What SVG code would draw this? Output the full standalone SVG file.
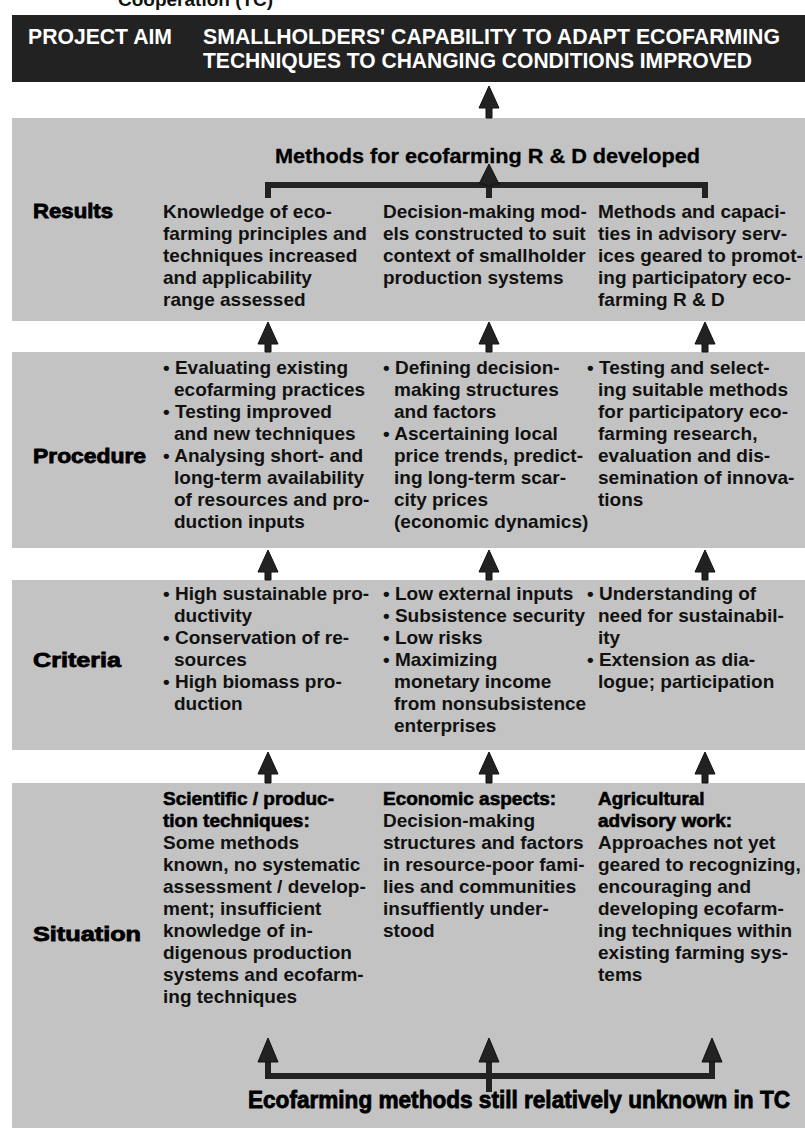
<svg xmlns="http://www.w3.org/2000/svg" width="805" height="1131" viewBox="0 0 805 1131">
<style>
.bg{fill:#c3c3c3}
.hdr{fill:#222}
.ht{font-family:"Liberation Sans",Arial,sans-serif;font-size:22px;font-weight:bold;fill:#fff}
.t{font-family:"Liberation Sans",Arial,sans-serif;font-size:19px;font-weight:bold;fill:#111}
.h{font-family:"Liberation Sans",Arial,sans-serif;font-size:19px;font-weight:bold;fill:#000;stroke:#000;stroke-width:0.6}
.lab{font-family:"Liberation Sans",Arial,sans-serif;font-size:20px;font-weight:bold;fill:#000;stroke:#000;stroke-width:0.8}
.big{font-family:"Liberation Sans",Arial,sans-serif;font-size:21px;font-weight:bold;fill:#000;stroke:#000;stroke-width:0.3}
.bot{font-family:"Liberation Sans",Arial,sans-serif;font-size:23px;font-weight:bold;fill:#000;stroke:#000;stroke-width:0.8}
.arr{fill:#222;stroke:#111;stroke-width:1}
.br{fill:none;stroke:#222;stroke-width:6;stroke-linejoin:miter}
</style>
<rect width="805" height="1131" fill="#fff"/>
<text class="t" x="118" y="6">Cooperation (TC)</text>

<g id="aim">
<rect class="hdr" x="12" y="15" width="793" height="67"/>
<text class="ht" x="28" y="44" textLength="144" lengthAdjust="spacingAndGlyphs">PROJECT AIM</text>
<text class="ht" x="203" y="44" textLength="577" lengthAdjust="spacingAndGlyphs">SMALLHOLDERS' CAPABILITY TO ADAPT ECOFARMING</text>
<text class="ht" x="203" y="68" textLength="549" lengthAdjust="spacingAndGlyphs">TECHNIQUES TO CHANGING CONDITIONS IMPROVED</text>
</g>

<g id="results">
<rect class="bg" x="12" y="118" width="793" height="203"/>
<text class="big" x="275" y="163" textLength="425" lengthAdjust="spacingAndGlyphs">Methods for ecofarming R &amp; D developed</text>
<text class="lab" x="33" y="218" textLength="80" lengthAdjust="spacingAndGlyphs">Results</text>
<text class="t" x="163" y="218">Knowledge of eco-</text>
<text class="t" x="163" y="240">farming principles and</text>
<text class="t" x="163" y="262">techniques increased</text>
<text class="t" x="163" y="284">and applicability</text>
<text class="t" x="163" y="306">range assessed</text>
<text class="t" x="383" y="218">Decision-making mod-</text>
<text class="t" x="383" y="240">els constructed to suit</text>
<text class="t" x="383" y="262">context of smallholder</text>
<text class="t" x="383" y="284">production systems</text>
<text class="t" x="598" y="218">Methods and capaci-</text>
<text class="t" x="598" y="240">ties in advisory serv-</text>
<text class="t" x="598" y="262">ices geared to promot-</text>
<text class="t" x="598" y="284">ing participatory eco-</text>
<text class="t" x="598" y="306">farming R &amp; D</text>
</g>

<g id="procedure">
<rect class="bg" x="12" y="352" width="793" height="196"/>
<text class="lab" x="33" y="463" textLength="113" lengthAdjust="spacingAndGlyphs">Procedure</text>
<text class="t" x="163" y="374">• Evaluating existing</text>
<text class="t" x="174" y="396">ecofarming practices</text>
<text class="t" x="163" y="418">• Testing improved</text>
<text class="t" x="174" y="440">and new techniques</text>
<text class="t" x="163" y="462">• Analysing short- and</text>
<text class="t" x="174" y="484">long-term availability</text>
<text class="t" x="174" y="506">of resources and pro-</text>
<text class="t" x="174" y="528">duction inputs</text>
<text class="t" x="383" y="374">• Defining decision-</text>
<text class="t" x="394" y="396">making structures</text>
<text class="t" x="394" y="418">and factors</text>
<text class="t" x="383" y="440">• Ascertaining local</text>
<text class="t" x="394" y="462">price trends, predict-</text>
<text class="t" x="394" y="484">ing long-term scar-</text>
<text class="t" x="394" y="506">city prices</text>
<text class="t" x="394" y="528">(economic dynamics)</text>
<text class="t" x="587" y="374">• Testing and select-</text>
<text class="t" x="598" y="396">ing suitable methods</text>
<text class="t" x="598" y="418">for participatory eco-</text>
<text class="t" x="598" y="440">farming research,</text>
<text class="t" x="598" y="462">evaluation and dis-</text>
<text class="t" x="598" y="484">semination of innova-</text>
<text class="t" x="598" y="506">tions</text>
</g>

<g id="criteria">
<rect class="bg" x="12" y="580" width="793" height="170"/>
<text class="lab" x="33" y="667" textLength="88" lengthAdjust="spacingAndGlyphs">Criteria</text>
<text class="t" x="163" y="600">• High sustainable pro-</text>
<text class="t" x="174" y="622">ductivity</text>
<text class="t" x="163" y="644">• Conservation of re-</text>
<text class="t" x="174" y="666">sources</text>
<text class="t" x="163" y="688">• High biomass pro-</text>
<text class="t" x="174" y="710">duction</text>
<text class="t" x="383" y="600">• Low external inputs</text>
<text class="t" x="383" y="622">• Subsistence security</text>
<text class="t" x="383" y="644">• Low risks</text>
<text class="t" x="383" y="666">• Maximizing</text>
<text class="t" x="394" y="688">monetary income</text>
<text class="t" x="394" y="710">from nonsubsistence</text>
<text class="t" x="394" y="732">enterprises</text>
<text class="t" x="587" y="600">• Understanding of</text>
<text class="t" x="598" y="622">need for sustainabil-</text>
<text class="t" x="598" y="644">ity</text>
<text class="t" x="587" y="666">• Extension as dia-</text>
<text class="t" x="598" y="688">logue; participation</text>
</g>

<g id="situation">
<rect class="bg" x="12" y="783" width="793" height="345"/>
<text class="lab" x="33" y="941" textLength="108" lengthAdjust="spacingAndGlyphs">Situation</text>
<text class="h" x="163" y="805">Scientific / produc-</text>
<text class="h" x="163" y="827">tion techniques:</text>
<text class="t" x="163" y="849">Some methods</text>
<text class="t" x="163" y="871">known, no systematic</text>
<text class="t" x="163" y="893">assessment / develop-</text>
<text class="t" x="163" y="915">ment; insufficient</text>
<text class="t" x="163" y="937">knowledge of in-</text>
<text class="t" x="163" y="959">digenous production</text>
<text class="t" x="163" y="981">systems and ecofarm-</text>
<text class="t" x="163" y="1003">ing techniques</text>
<text class="h" x="383" y="805">Economic aspects:</text>
<text class="t" x="383" y="827">Decision-making</text>
<text class="t" x="383" y="849">structures and factors</text>
<text class="t" x="383" y="871">in resource-poor fami-</text>
<text class="t" x="383" y="893">lies and communities</text>
<text class="t" x="383" y="915">insuffiently under-</text>
<text class="t" x="383" y="937">stood</text>
<text class="h" x="598" y="805">Agricultural</text>
<text class="h" x="598" y="827">advisory work:</text>
<text class="t" x="598" y="849">Approaches not yet</text>
<text class="t" x="598" y="871">geared to recognizing,</text>
<text class="t" x="598" y="893">encouraging and</text>
<text class="t" x="598" y="915">developing ecofarm-</text>
<text class="t" x="598" y="937">ing techniques within</text>
<text class="t" x="598" y="959">existing farming sys-</text>
<text class="t" x="598" y="981">tems</text>
<text class="bot" x="248" y="1108" textLength="542" lengthAdjust="spacingAndGlyphs">Ecofarming methods still relatively unknown in TC</text>
</g>

<g id="connectors">
<polygon class="arr" points="489,86 499,108 492,108 492,118 486,118 486,108 479,108"/>
<path class="br" d="M268,198 V185 H705 V198 M489,185 V198"/>
<polygon class="arr" points="489,164 499,184 492,184 492,186 486,186 486,184 479,184"/>
<polygon class="arr" points="268,322 278,344 271,344 271,352 265,352 265,344 258,344"/>
<polygon class="arr" points="489,322 499,344 492,344 492,352 486,352 486,344 479,344"/>
<polygon class="arr" points="705,322 715,344 708,344 708,352 702,352 702,344 695,344"/>
<polygon class="arr" points="268,550 278,572 271,572 271,580 265,580 265,572 258,572"/>
<polygon class="arr" points="489,550 499,572 492,572 492,580 486,580 486,572 479,572"/>
<polygon class="arr" points="705,550 715,572 708,572 708,580 702,580 702,572 695,572"/>
<polygon class="arr" points="268,752 278,774 271,774 271,783 265,783 265,774 258,774"/>
<polygon class="arr" points="489,752 499,774 492,774 492,783 486,783 486,774 479,774"/>
<polygon class="arr" points="705,752 715,774 708,774 708,783 702,783 702,774 695,774"/>
<path class="br" d="M268,1060 V1076 H712 V1060 M489,1060 V1092"/>
<polygon class="arr" points="268,1038 278,1062 258,1062"/>
<polygon class="arr" points="489,1038 499,1062 479,1062"/>
<polygon class="arr" points="712,1038 722,1062 702,1062"/>
</g>
</svg>
